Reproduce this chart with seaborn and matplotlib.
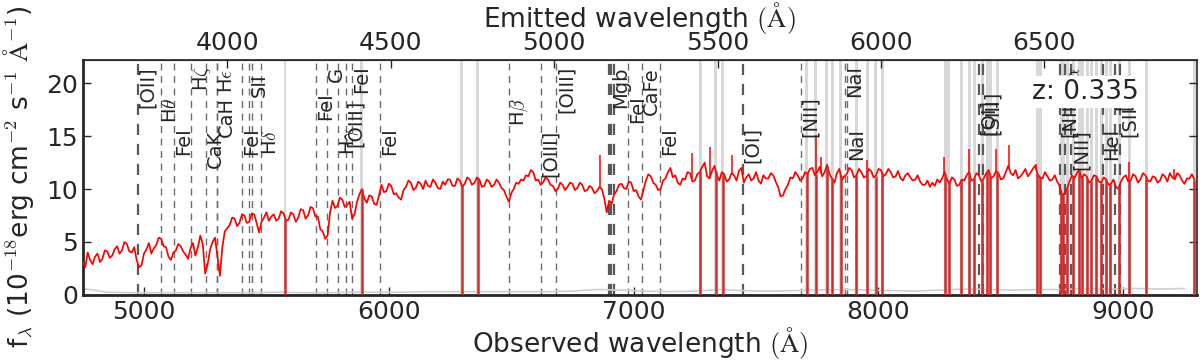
import numpy as np
import matplotlib
matplotlib.use('Agg')
import matplotlib.pyplot as plt
import seaborn as sns

redshift = 0.335

# observed spectrum, sampled every 10 A from 4750 A
wave_start = 4750
wave_step = 10
flux = [
    3.2, 2.6, 4.0, 3.3, 2.9, 3.6, 3.9, 3.1, 3.4, 4.2, 4.1, 3.5, 3.7, 4.3, 4.6, 3.9, 4.2, 5.0, 4.8, 4.1,
    4.0, 4.5, 3.3, 2.6, 2.8, 3.9, 4.3, 4.9, 3.9, 4.4, 4.7, 5.4, 5.3, 4.6, 4.5, 3.6, 3.3, 4.0, 4.2, 4.8,
    4.6, 4.1, 3.8, 3.4, 4.4, 4.9, 3.7, 4.5, 5.6, 4.8, 2.0, 2.9, 4.3, 5.0, 5.4, 3.6, 1.8, 4.5, 6.0, 6.3,
    6.6, 7.3, 7.2, 6.5, 6.8, 7.6, 7.5, 6.8, 6.9, 7.7, 7.6, 6.8, 5.9, 6.9, 7.3, 7.8, 7.0, 7.4, 7.6, 7.0,
    7.2, 7.9, 7.7, 7.0, 7.1, 7.8, 7.6, 6.9, 7.3, 8.1, 8.0, 7.2, 7.5, 8.3, 8.2, 7.4, 7.4, 6.2, 6.0, 5.3,
    5.6, 7.8, 8.9, 8.2, 8.4, 9.2, 9.0, 8.3, 8.5, 8.8, 7.2, 7.6, 8.8, 9.5, 10.0, 9.1, 8.7, 9.4, 9.3, 8.6,
    8.5, 9.4, 10.4, 9.7, 9.8, 10.5, 10.3, 9.5, 9.6, 9.2, 9.0, 9.9, 10.2, 10.8, 10.6, 9.9, 10.1, 10.7, 10.5, 10.0,
    10.8, 10.3, 10.2, 10.9, 10.6, 10.1, 10.0, 10.7, 10.4, 10.9, 10.9, 10.3, 10.3, 11.0, 10.8, 10.2, 10.5, 11.1, 10.9, 10.4,
    10.6, 11.1, 10.9, 10.2, 10.3, 10.9, 10.7, 10.2, 10.4, 10.9, 10.6, 10.1, 9.9, 9.3, 8.8, 9.6, 10.0, 10.6, 10.5, 10.9,
    10.8, 11.3, 11.2, 11.8, 11.6, 10.8, 10.9, 10.4, 10.6, 11.1, 10.9, 10.4, 10.3, 9.8, 10.0, 10.6, 10.4, 9.9, 10.2, 10.6,
    10.5, 9.9, 10.1, 10.6, 10.4, 9.8, 9.9, 10.3, 10.1, 9.6, 9.8, 10.2, 10.0, 9.1, 7.8, 8.9, 8.6, 9.5, 9.8, 10.4,
    10.5, 10.1, 10.0, 10.7, 10.6, 9.8, 9.9, 9.3, 9.0, 9.9, 10.8, 11.4, 11.2, 10.6, 10.4, 9.9, 10.0, 10.8, 11.0, 11.6,
    12.0, 11.1, 11.3, 10.6, 10.4, 11.0, 10.9, 11.6, 11.5, 10.7, 10.8, 11.4, 11.6, 12.1, 12.5, 11.2, 11.0, 11.7, 12.2, 11.3,
    10.8, 11.6, 11.4, 10.7, 10.9, 11.5, 11.3, 10.8, 11.7, 12.0, 10.6, 11.1, 11.4, 10.8, 11.0, 11.6, 10.8, 10.5, 11.3, 11.0,
    11.0, 11.5, 11.3, 10.7, 10.2, 9.3, 9.4, 10.0, 10.4, 11.1, 11.0, 11.6, 11.3, 10.8, 11.0, 11.6, 11.4, 11.9, 12.0, 11.3,
    11.6, 12.1, 11.2, 11.6, 12.3, 11.4, 11.0, 10.6, 11.5, 11.9, 10.8, 11.2, 11.4, 12.0, 11.8, 11.1, 11.3, 11.9, 11.6, 11.1,
    11.2, 11.9, 11.7, 11.1, 11.3, 11.9, 11.8, 11.2, 11.4, 11.9, 11.6, 11.1, 11.2, 11.7, 11.0, 10.8, 11.3, 11.5, 11.1, 10.8,
    10.9, 11.3, 10.7, 10.4, 10.4, 10.8, 10.2, 10.6, 10.3, 10.9, 10.6, 11.0, 11.6, 10.9, 10.5, 11.1, 10.9, 10.3, 10.4, 10.9,
    10.8, 11.3, 11.6, 10.8, 10.9, 11.5, 11.3, 10.7, 11.0, 11.5, 11.8, 11.0, 11.2, 11.7, 11.5, 10.9, 11.0, 11.6, 12.2, 11.5,
    11.3, 11.8, 11.0, 11.2, 11.5, 11.9, 11.2, 11.5, 11.9, 12.2, 11.4, 11.1, 11.0, 11.6, 11.2, 10.8, 10.9, 11.3, 10.7, 10.3,
    9.4, 9.6, 10.0, 10.7, 11.3, 11.0, 11.5, 11.8, 11.0, 11.4, 11.2, 10.6, 10.8, 11.3, 11.2, 10.7, 10.6, 11.1, 10.9, 10.4,
    10.5, 10.9, 10.2, 10.0, 10.7, 11.1, 11.3, 10.7, 10.8, 11.4, 11.2, 10.6, 10.9, 11.5, 11.3, 10.8, 10.7, 11.2, 11.1, 10.6,
    10.8, 11.4, 11.2, 10.7, 11.5, 11.1, 10.9, 11.5, 11.3, 10.8, 10.5, 11.0, 11.0, 11.4, 10.9,
]

# error spectrum, every 100 A from 4750 A
err_start = 4750
err_step = 100
err = [
    0.6, 0.25, 0.2, 0.2, 0.2, 0.2, 0.2, 0.2, 0.25, 0.2,
    0.2, 0.25, 0.25, 0.25, 0.3, 0.3, 0.3, 0.3, 0.3, 0.3,
    0.35, 0.5, 0.45, 0.35, 0.3, 0.35, 0.5, 0.4, 0.35, 0.4,
    0.45, 0.5, 0.45, 0.4, 0.35, 0.45, 0.55, 0.5, 0.45, 0.5,
    0.5, 0.6, 0.55, 0.6, 0.55, 0.6,
]

# sky-line masked pixels (observed A)
mask_waves = [5576, 5890, 6298, 6363, 7273, 7335, 7363, 7706, 7743, 7788,
              7812, 7845, 7910, 7955, 7988, 8016, 8273, 8286, 8339, 8371,
              8392, 8424, 8445, 8457, 8486, 8649, 8661, 8747, 8755, 8771,
              8796, 8820, 8833, 8853, 8869, 8890, 8910, 8931, 8947, 8984,
              9024, 9094, 9290]

# sky residual spikes
spike_waves = [6861, 7237, 7310, 7400, 7743, 7767, 7955, 8269, 8371, 8482,
               8535, 8645, 9024, 9208]
spike_tops = [13.2, 13.4, 14.0, 13.2, 15.1, 13.0, 12.7, 13.0, 13.8, 13.8,
              14.2, 12.4, 12.6, 11.9]

# spectral features (rest frame A)
line_names = ['[OII]', r'H$\theta$', 'FeI', r'H$\zeta$', 'CaK', 'CaH', r'H$\epsilon$',
              'FeI', 'SII', '', r'H$\delta$', 'FeI', 'G', r'H$\gamma$', '[OIII]', 'FeI',
              'FeI', r'H$\beta$', '[OIII]', '[OIII]', '', 'Mgb', '', 'FeI', 'CaFe', 'FeI',
              '[OI]', '[NII]', 'NaI', 'NaI', '[OI]', '[SIII]', '[NII]', r'H$\alpha$',
              '[NII]', 'HeI', '[SII]', '[SII]']
line_rest = [3727, 3798, 3837, 3889, 3934, 3969, 3970,
             4046, 4068, 4076, 4102, 4271, 4304, 4340, 4363, 4383,
             4467, 4861, 4959, 5007, 5167, 5173, 5184, 5227, 5269, 5324,
             5577, 5755, 5890, 5896, 6300, 6312, 6548, 6563,
             6583, 6678, 6716, 6731]
line_strong = [True, False, False, False, False, False, False,
               False, False, False, False, False, False, False, False, False,
               False, False, False, False, True, True, True, False, False, False,
               True, False, False, False, True, True, True, True,
               True, True, True, True]
label_y = [17.7, 16.2, 13.2, 19.3, 12.0, 14.9, 19.1,
           13.2, 18.7, 0, 13.2, 16.5, 20.1, 13.2, 14.0, 19.1,
           13.2, 16.0, 11.1, 17.2, 0, 17.7, 0, 16.2, 17.0, 13.2,
           12.5, 14.9, 18.7, 12.7, 15.1, 15.1, 14.9, 18.9,
           11.8, 12.7, 17.5, 14.9]

sns.set_style('ticks')
plt.rcParams['font.family'] = ['DejaVu Sans']
plt.rcParams['mathtext.fontset'] = 'cm'

wave = wave_start + wave_step * np.arange(len(flux))
err_wave = err_start + err_step * np.arange(len(err))
flux = np.array(flux)

fig = plt.figure(figsize=(12, 3.6), dpi=100)
ax = fig.add_axes([0.069, 0.181, 0.9283, 0.6525])

for m in mask_waves:
    ax.axvspan(m - 6, m + 6, color='#d8d8d8', lw=0, zorder=0)

for name, rest, strong, ly in zip(line_names, line_rest, line_strong, label_y):
    obs = rest * (1 + redshift)
    if strong:
        ax.axvline(obs, color='0.35', lw=1.6, dashes=(5, 4), zorder=1)
    else:
        ax.axvline(obs, color='0.42', lw=1.0, dashes=(5, 4), zorder=1)
    if name:
        ax.text(obs, ly, name, rotation=90, ha='left', va='bottom',
                fontsize=14, zorder=4)

sns.lineplot(x=err_wave, y=err, color='#cfcfcf', lw=1.2, ax=ax, zorder=2)
sns.lineplot(x=wave, y=flux, color='red', lw=1.25, ax=ax, zorder=3)

base = np.interp(mask_waves, wave, flux)
ax.vlines(mask_waves, 0, base, color='#d42c2c', lw=1.8, zorder=3)
base = np.interp(spike_waves, wave, flux)
ax.vlines(spike_waves, base, spike_tops, color='red', lw=1.1, zorder=3)

ax.text(0.9, 0.864, 'z: 0.335', transform=ax.transAxes, ha='center', va='center',
        fontsize=19, zorder=5,
        bbox=dict(facecolor='white', edgecolor='none', pad=2))

ax.set_xlim(4750, 9300)
ax.set_ylim(0, 22.2)
ax.set_xticks([5000, 6000, 7000, 8000, 9000])
ax.set_yticks([0, 5, 10, 15, 20])
ax.tick_params(direction='in', length=6, width=1, labelsize=18, right=True, top=False)
ax.set_xlabel(r'Observed wavelength $(\mathrm{\AA})$', fontsize=19, labelpad=1)
ax.set_ylabel(r'f$_\lambda$ (10$^{-18}$erg cm$^{-2}$ s$^{-1}$ $\mathrm{\AA}^{-1}$)', fontsize=19)
ax.yaxis.set_label_coords(-0.042, 0.5)
for side in ['left', 'bottom']:
    ax.spines[side].set_linewidth(2)
for side in ['top', 'right']:
    ax.spines[side].set_linewidth(1.2)

secax = ax.secondary_xaxis('top', functions=(lambda x: x / (1 + redshift),
                                             lambda x: x * (1 + redshift)))
secax.set_xticks([4000, 4500, 5000, 5500, 6000, 6500])
secax.tick_params(direction='in', length=6, width=1, labelsize=18)
secax.set_xlabel(r'Emitted wavelength $(\mathrm{\AA})$', fontsize=19, labelpad=3)

fig.savefig('out.png', dpi=100)
